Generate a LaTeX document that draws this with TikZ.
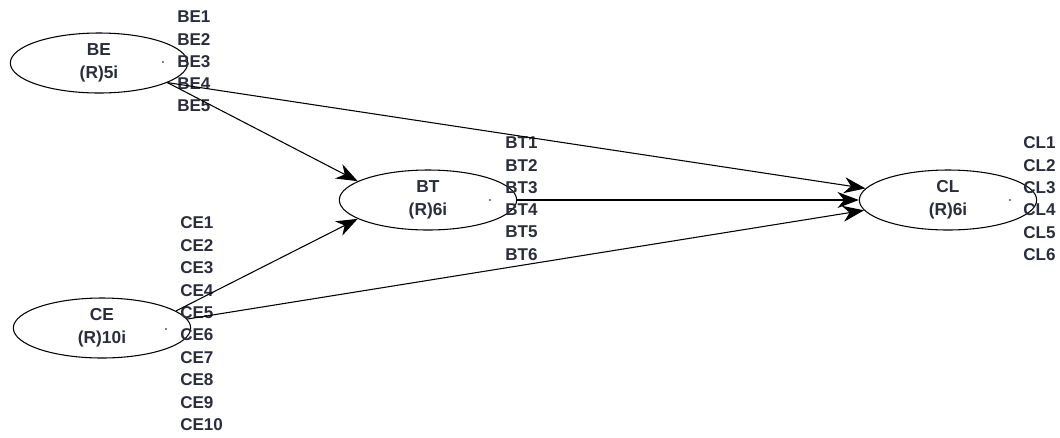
\documentclass[tikz,border=0pt]{standalone}
\usepackage{fontspec}
\setmainfont{Liberation Sans}
\usetikzlibrary{shapes.geometric,arrows.meta}
\definecolor{labelink}{RGB}{42,46,60}
\tikzset{
  px/.style={x=0.75pt,y=-0.75pt},
  construct/.style={ellipse,draw=black,line width=0.8pt,inner sep=0pt,
    minimum width=133pt,minimum height=45pt,align=center,text=labelink,
    font=\bfseries\fontsize{13}{17}\selectfont},
  indicator/.style={anchor=west,inner sep=0pt,text=labelink,
    font=\bfseries\fontsize{12.8}{15}\selectfont},
  path/.style={draw=black,line width=0.8pt,
    -{Stealth[length=16pt,width=12pt,inset=5pt]}},
  cdot/.style={fill=black,radius=0.8}
}
\begin{document}
\begin{tikzpicture}[px]
\useasboundingbox (0,0) rectangle (1060,437);

% latent constructs
\node[construct] (BE) at (99,63)  {BE\\(R)5i};
\node[construct] (BT) at (428,200) {BT\\(R)6i};
\node[construct] (CE) at (102,328) {CE\\(R)10i};
\node[construct] (CL) at (948,200) {CL\\(R)6i};

% centre marks
\fill[cdot] (163,62) circle;
\fill[cdot] (490,200) circle;
\fill[cdot] (166,329) circle;
\fill[cdot] (1010,200) circle;

% indicators of each construct
\foreach \i in {1,...,5}
  \node[indicator] (BE\i) at (177,{17+22.3*(\i-1)}) {BE\i};
\foreach \i in {1,...,6}
  \node[indicator] (BT\i) at (505,{143+22.3*(\i-1)}) {BT\i};
\foreach \i in {1,...,10}
  \node[indicator] (CE\i) at (180,{223+22.4*(\i-1)}) {CE\i};
\foreach \i in {1,...,6}
  \node[indicator] (CL\i) at (1023,{143+22.3*(\i-1)}) {CL\i};

% structural paths
\draw[path] (BE.-16) -- (BT.165);
\draw[path] (BE.-16) -- (CL.172);
\draw[path] (CE.13) -- (BT.195);
\draw[path] (CE.6) -- (CL.187);
\draw[path] (BT.east) -- (CL.west);
\end{tikzpicture}
\end{document}
